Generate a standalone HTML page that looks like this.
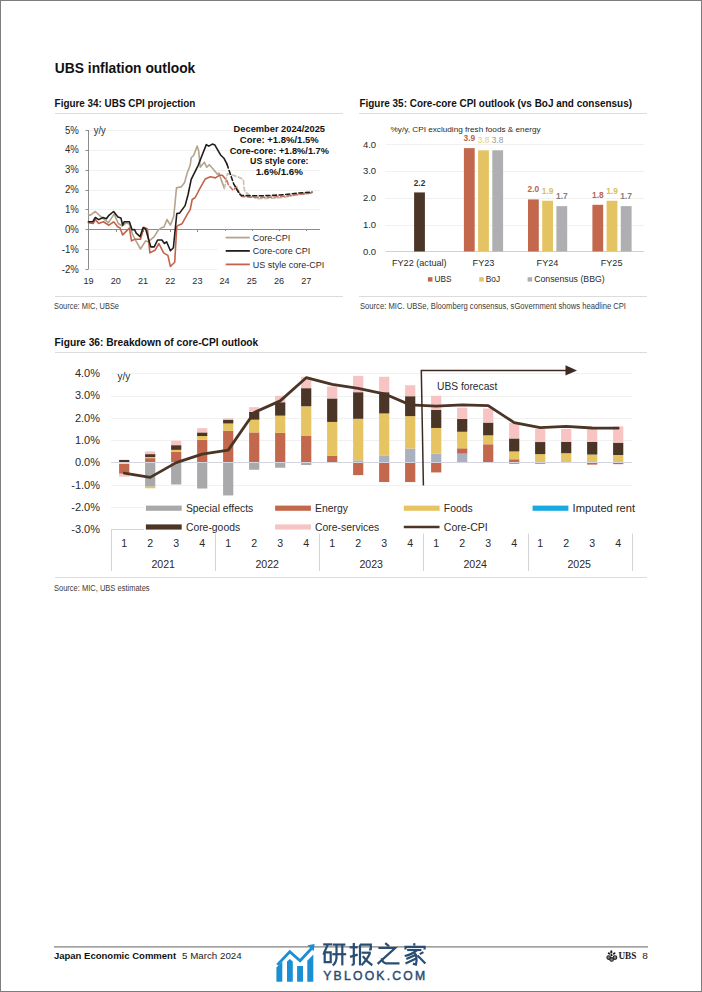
<!DOCTYPE html>
<html><head><meta charset="utf-8"><style>
html,body{margin:0;padding:0;background:#fff;}
svg{display:block;}
</style></head><body>
<svg width="702" height="992" viewBox="0 0 702 992">
<rect x="0.5" y="0.5" width="701" height="991" fill="#fff" stroke="#7d7d7d" stroke-width="1"/>
<text x="54.8" y="72.8" font-family="'Liberation Sans', sans-serif" font-size="14.5" font-weight="bold" fill="#111" text-anchor="start" textLength="140.5" lengthAdjust="spacingAndGlyphs">UBS inflation outlook</text>
<text x="54.6" y="106.8" font-family="'Liberation Sans', sans-serif" font-size="10.2" font-weight="bold" fill="#111" text-anchor="start" textLength="140.7" lengthAdjust="spacingAndGlyphs">Figure 34: UBS CPI projection</text>
<line x1="55" y1="113.5" x2="343" y2="113.5" stroke="#dcdcdc" stroke-width="1"/>
<text x="359.4" y="106.8" font-family="'Liberation Sans', sans-serif" font-size="10.2" font-weight="bold" fill="#111" text-anchor="start" textLength="272.6" lengthAdjust="spacingAndGlyphs">Figure 35: Core-core CPI outlook (vs BoJ and consensus)</text>
<line x1="359" y1="113.5" x2="647" y2="113.5" stroke="#dcdcdc" stroke-width="1"/>
<line x1="88.6" y1="130.5" x2="320" y2="130.5" stroke="#f1f1f1" stroke-width="1"/>
<line x1="88.6" y1="150.5" x2="320" y2="150.5" stroke="#f1f1f1" stroke-width="1"/>
<line x1="88.6" y1="170.5" x2="320" y2="170.5" stroke="#f1f1f1" stroke-width="1"/>
<line x1="88.6" y1="190.5" x2="320" y2="190.5" stroke="#f1f1f1" stroke-width="1"/>
<line x1="88.6" y1="209.5" x2="320" y2="209.5" stroke="#f1f1f1" stroke-width="1"/>
<line x1="88.6" y1="249.5" x2="320" y2="249.5" stroke="#f1f1f1" stroke-width="1"/>
<line x1="88.6" y1="269.5" x2="320" y2="269.5" stroke="#f1f1f1" stroke-width="1"/>
<line x1="88.5" y1="130" x2="88.5" y2="269" stroke="#8c8c8c" stroke-width="1"/>
<line x1="88.5" y1="229.5" x2="320" y2="229.5" stroke="#8c8c8c" stroke-width="1"/>
<line x1="85.5" y1="130.5" x2="88.5" y2="130.5" stroke="#8c8c8c" stroke-width="1"/>
<text x="78.8" y="133.55" font-family="'Liberation Sans', sans-serif" font-size="10" font-weight="normal" fill="#2a2a2a" text-anchor="end" textLength="13.88" lengthAdjust="spacingAndGlyphs">5%</text>
<line x1="85.5" y1="150.5" x2="88.5" y2="150.5" stroke="#8c8c8c" stroke-width="1"/>
<text x="78.8" y="153.4" font-family="'Liberation Sans', sans-serif" font-size="10" font-weight="normal" fill="#2a2a2a" text-anchor="end" textLength="13.88" lengthAdjust="spacingAndGlyphs">4%</text>
<line x1="85.5" y1="170.5" x2="88.5" y2="170.5" stroke="#8c8c8c" stroke-width="1"/>
<text x="78.8" y="173.25" font-family="'Liberation Sans', sans-serif" font-size="10" font-weight="normal" fill="#2a2a2a" text-anchor="end" textLength="13.88" lengthAdjust="spacingAndGlyphs">3%</text>
<line x1="85.5" y1="190.5" x2="88.5" y2="190.5" stroke="#8c8c8c" stroke-width="1"/>
<text x="78.8" y="193.10000000000002" font-family="'Liberation Sans', sans-serif" font-size="10" font-weight="normal" fill="#2a2a2a" text-anchor="end" textLength="13.88" lengthAdjust="spacingAndGlyphs">2%</text>
<line x1="85.5" y1="209.5" x2="88.5" y2="209.5" stroke="#8c8c8c" stroke-width="1"/>
<text x="78.8" y="212.95000000000002" font-family="'Liberation Sans', sans-serif" font-size="10" font-weight="normal" fill="#2a2a2a" text-anchor="end" textLength="13.88" lengthAdjust="spacingAndGlyphs">1%</text>
<line x1="85.5" y1="229.5" x2="88.5" y2="229.5" stroke="#8c8c8c" stroke-width="1"/>
<text x="78.8" y="232.8" font-family="'Liberation Sans', sans-serif" font-size="10" font-weight="normal" fill="#2a2a2a" text-anchor="end" textLength="13.88" lengthAdjust="spacingAndGlyphs">0%</text>
<line x1="85.5" y1="249.5" x2="88.5" y2="249.5" stroke="#8c8c8c" stroke-width="1"/>
<text x="78.8" y="252.65" font-family="'Liberation Sans', sans-serif" font-size="10" font-weight="normal" fill="#2a2a2a" text-anchor="end" textLength="17.07" lengthAdjust="spacingAndGlyphs">-1%</text>
<line x1="85.5" y1="269.5" x2="88.5" y2="269.5" stroke="#8c8c8c" stroke-width="1"/>
<text x="78.8" y="272.5" font-family="'Liberation Sans', sans-serif" font-size="10" font-weight="normal" fill="#2a2a2a" text-anchor="end" textLength="17.07" lengthAdjust="spacingAndGlyphs">-2%</text>
<text x="88.6" y="284" font-family="'Liberation Sans', sans-serif" font-size="9.8" font-weight="normal" fill="#2a2a2a" text-anchor="middle" textLength="10.14" lengthAdjust="spacingAndGlyphs">19</text>
<line x1="116.5" y1="229.5" x2="116.5" y2="232" stroke="#8c8c8c" stroke-width="1"/>
<text x="115.8" y="284" font-family="'Liberation Sans', sans-serif" font-size="9.8" font-weight="normal" fill="#2a2a2a" text-anchor="middle" textLength="10.14" lengthAdjust="spacingAndGlyphs">20</text>
<line x1="143.5" y1="229.5" x2="143.5" y2="232" stroke="#8c8c8c" stroke-width="1"/>
<text x="143.0" y="284" font-family="'Liberation Sans', sans-serif" font-size="9.8" font-weight="normal" fill="#2a2a2a" text-anchor="middle" textLength="10.14" lengthAdjust="spacingAndGlyphs">21</text>
<line x1="170.5" y1="229.5" x2="170.5" y2="232" stroke="#8c8c8c" stroke-width="1"/>
<text x="170.2" y="284" font-family="'Liberation Sans', sans-serif" font-size="9.8" font-weight="normal" fill="#2a2a2a" text-anchor="middle" textLength="10.14" lengthAdjust="spacingAndGlyphs">22</text>
<line x1="197.5" y1="229.5" x2="197.5" y2="232" stroke="#8c8c8c" stroke-width="1"/>
<text x="197.39999999999998" y="284" font-family="'Liberation Sans', sans-serif" font-size="9.8" font-weight="normal" fill="#2a2a2a" text-anchor="middle" textLength="10.14" lengthAdjust="spacingAndGlyphs">23</text>
<line x1="225.5" y1="229.5" x2="225.5" y2="232" stroke="#8c8c8c" stroke-width="1"/>
<text x="224.6" y="284" font-family="'Liberation Sans', sans-serif" font-size="9.8" font-weight="normal" fill="#2a2a2a" text-anchor="middle" textLength="10.14" lengthAdjust="spacingAndGlyphs">24</text>
<line x1="252.5" y1="229.5" x2="252.5" y2="232" stroke="#8c8c8c" stroke-width="1"/>
<text x="251.79999999999998" y="284" font-family="'Liberation Sans', sans-serif" font-size="9.8" font-weight="normal" fill="#2a2a2a" text-anchor="middle" textLength="10.14" lengthAdjust="spacingAndGlyphs">25</text>
<line x1="279.5" y1="229.5" x2="279.5" y2="232" stroke="#8c8c8c" stroke-width="1"/>
<text x="279.0" y="284" font-family="'Liberation Sans', sans-serif" font-size="9.8" font-weight="normal" fill="#2a2a2a" text-anchor="middle" textLength="10.14" lengthAdjust="spacingAndGlyphs">26</text>
<line x1="306.5" y1="229.5" x2="306.5" y2="232" stroke="#8c8c8c" stroke-width="1"/>
<text x="306.2" y="284" font-family="'Liberation Sans', sans-serif" font-size="9.8" font-weight="normal" fill="#2a2a2a" text-anchor="middle" textLength="10.14" lengthAdjust="spacingAndGlyphs">27</text>
<text x="93.8" y="133.6" font-family="'Liberation Sans', sans-serif" font-size="10" font-weight="normal" fill="#2a2a2a" text-anchor="start" textLength="12" lengthAdjust="spacingAndGlyphs">y/y</text>
<polyline points="88.4,214.1 90.1,215.3 95.3,211.5 100.0,215.8 103.4,218.8 108.5,222.6 114.1,214.1 118.3,223.5 122.2,226.0 126.0,223.0 129.4,224.0 132.8,234.9 135.0,239.2 140.5,249.0 145.6,240.9 148.2,241.8 154.2,236.6 158.5,229.8 161.9,227.6 164.0,227.0 167.0,219.5 170.4,225.1 173.8,216.1 176.5,187.9 181.1,186.9 184.6,182.4 187.1,173.3 190.2,165.3 191.2,157.7 193.7,155.2 197.2,146.1 198.7,151.1 200.2,167.3 204.3,162.2 206.8,167.3 209.3,164.7 213.3,169.3 217.4,174.3 219.0,173.0 221.4,180.4 224.4,188.4" fill="none" stroke="#b3a48d" stroke-width="1.6" stroke-linejoin="round" stroke-linecap="round"/>
<polyline points="88.4,222.6 93.1,223.5 95.3,219.6 98.7,223.5 103.4,221.8 108.9,225.2 113.6,221.8 117.9,226.9 120.0,227.7 122.6,234.9 129.4,228.1 131.5,240.9 135.0,239.2 140.5,239.2 143.9,227.2 147.4,228.9 149.9,252.9 155.0,250.3 158.9,243.5 163.6,252.9 167.9,255.4 170.4,266.5 174.7,262.3 176.8,226.4 178.6,225.2 182.1,223.7 187.1,214.7 190.2,209.6 192.2,199.5 195.2,197.5 200.2,187.9 205.3,178.9 210.3,176.8 215.4,177.9 219.4,175.3 222.4,175.3 227.0,180.9" fill="none" stroke="#c4624a" stroke-width="1.6" stroke-linejoin="round" stroke-linecap="round"/>
<polyline points="88.4,221.8 92.7,221.8 95.3,217.5 98.7,219.6 103.0,217.5 106.4,218.8 108.9,215.3 113.6,211.5 117.9,217.0 120.9,217.9 122.6,225.1 124.3,221.7 129.4,221.7 132.0,229.8 134.5,229.5 136.2,233.2 140.1,236.6 143.1,227.6 145.6,228.9 150.8,246.9 154.2,246.9 157.6,240.0 161.9,240.0 164.4,243.5 166.6,241.8 170.4,250.7 173.4,247.7 176.8,213.5 179.6,213.1 185.1,205.6 188.1,194.5 191.2,179.4 195.2,171.3 198.2,165.3 202.3,154.7 206.3,144.6 208.8,146.1 212.3,144.1 214.9,145.1 220.4,154.7 223.9,158.2 227.0,164.2" fill="none" stroke="#211d1a" stroke-width="1.6" stroke-linejoin="round" stroke-linecap="round"/>
<polyline points="224.4,188.4 227.4,173.7 237.1,176.5 243.4,179.4 243.9,187.4 245.0,191.9 251.0,196.0 257.0,198.6 266.0,198.4 276.0,198.2 285.0,197.2 297.0,194.8 312.0,192.8" fill="none" stroke="#c9bfae" stroke-width="1.6" stroke-linejoin="round" stroke-linecap="round" stroke-dasharray="4,2.6"/>
<polyline points="227.0,180.9 228.5,185.0 233.1,190.2 236.5,186.8 238.8,191.9 241.7,196.5 250.0,197.2 258.0,197.4 270.0,197.2 285.0,196.2 297.0,194.6 312.0,193.0" fill="none" stroke="#c27462" stroke-width="1.6" stroke-linejoin="round" stroke-linecap="round" stroke-dasharray="4,2.6"/>
<polyline points="227.0,164.2 233.6,183.6 239.3,193.8 241.5,195.5 244.5,195.6 252.0,195.8 260.0,195.8 274.0,195.3 285.0,194.6 297.0,193.2 312.0,192.0" fill="none" stroke="#211d1a" stroke-width="1.6" stroke-linejoin="round" stroke-linecap="round" stroke-dasharray="4,2.6"/>
<text x="279.3" y="132" font-family="'Liberation Sans', sans-serif" font-size="9.4" font-weight="bold" fill="#111" text-anchor="middle" textLength="91.4" lengthAdjust="spacingAndGlyphs">December 2024/2025</text>
<text x="279.3" y="142.9" font-family="'Liberation Sans', sans-serif" font-size="9.4" font-weight="bold" fill="#111" text-anchor="middle" textLength="79" lengthAdjust="spacingAndGlyphs">Core: +1.8%/1.5%</text>
<text x="279.3" y="153.5" font-family="'Liberation Sans', sans-serif" font-size="9.4" font-weight="bold" fill="#111" text-anchor="middle" textLength="99.3" lengthAdjust="spacingAndGlyphs">Core-core: +1.8%/1.7%</text>
<text x="279.3" y="164.3" font-family="'Liberation Sans', sans-serif" font-size="9.4" font-weight="bold" fill="#111" text-anchor="middle" textLength="58.5" lengthAdjust="spacingAndGlyphs">US style core:</text>
<text x="279.3" y="174.8" font-family="'Liberation Sans', sans-serif" font-size="9.4" font-weight="bold" fill="#111" text-anchor="middle" textLength="47.3" lengthAdjust="spacingAndGlyphs">1.6%/1.6%</text>
<rect x="217.50" y="231.00" width="108.00" height="40.00" fill="#fff"/>
<line x1="225.7" y1="237.6" x2="249.8" y2="237.6" stroke="#b3a48d" stroke-width="1.8"/>
<text x="252.8" y="240.9" font-family="'Liberation Sans', sans-serif" font-size="9.6" font-weight="normal" fill="#2a2a2a" text-anchor="start" textLength="37.49" lengthAdjust="spacingAndGlyphs">Core-CPI</text>
<line x1="225.7" y1="250.9" x2="249.8" y2="250.9" stroke="#211d1a" stroke-width="1.8"/>
<text x="252.8" y="254.20000000000002" font-family="'Liberation Sans', sans-serif" font-size="9.6" font-weight="normal" fill="#2a2a2a" text-anchor="start" textLength="57.49" lengthAdjust="spacingAndGlyphs">Core-core CPI</text>
<line x1="225.7" y1="264.4" x2="249.8" y2="264.4" stroke="#c4624a" stroke-width="1.8"/>
<text x="252.8" y="267.7" font-family="'Liberation Sans', sans-serif" font-size="9.6" font-weight="normal" fill="#2a2a2a" text-anchor="start" textLength="71.48" lengthAdjust="spacingAndGlyphs">US style core-CPI</text>
<line x1="55" y1="296.5" x2="343" y2="296.5" stroke="#dcdcdc" stroke-width="1"/>
<text x="54" y="309.4" font-family="'Liberation Sans', sans-serif" font-size="8.3" font-weight="normal" fill="#3a3a3a" text-anchor="start" textLength="65" lengthAdjust="spacingAndGlyphs">Source: MIC, UBSe</text>
<line x1="385.6" y1="225.5" x2="644" y2="225.5" stroke="#f1f1f1" stroke-width="1"/>
<line x1="385.6" y1="198.5" x2="644" y2="198.5" stroke="#f1f1f1" stroke-width="1"/>
<line x1="385.6" y1="171.5" x2="644" y2="171.5" stroke="#f1f1f1" stroke-width="1"/>
<line x1="385.6" y1="144.5" x2="644" y2="144.5" stroke="#f1f1f1" stroke-width="1"/>
<line x1="385.6" y1="251.5" x2="644" y2="251.5" stroke="#d0d0d0" stroke-width="1"/>
<text x="376.1" y="254.9" font-family="'Liberation Sans', sans-serif" font-size="9.5" font-weight="normal" fill="#2a2a2a" text-anchor="end">0.0</text>
<text x="376.1" y="228.05" font-family="'Liberation Sans', sans-serif" font-size="9.5" font-weight="normal" fill="#2a2a2a" text-anchor="end">1.0</text>
<text x="376.1" y="201.20000000000002" font-family="'Liberation Sans', sans-serif" font-size="9.5" font-weight="normal" fill="#2a2a2a" text-anchor="end">2.0</text>
<text x="376.1" y="174.35" font-family="'Liberation Sans', sans-serif" font-size="9.5" font-weight="normal" fill="#2a2a2a" text-anchor="end">3.0</text>
<text x="376.1" y="147.5" font-family="'Liberation Sans', sans-serif" font-size="9.5" font-weight="normal" fill="#2a2a2a" text-anchor="end">4.0</text>
<text x="390.6" y="132.4" font-family="'Liberation Sans', sans-serif" font-size="7.8" font-weight="normal" fill="#2a2a2a" text-anchor="start" textLength="150" lengthAdjust="spacingAndGlyphs">%y/y, CPI excluding fresh foods &amp; energy</text>
<rect x="414.10" y="192.43" width="10.80" height="59.07" fill="#4b3526"/>
<text x="419.5" y="185.5" font-family="'Liberation Sans', sans-serif" font-size="8.3" font-weight="bold" fill="#333" text-anchor="middle">2.2</text>
<rect x="463.90" y="148.13" width="10.80" height="103.37" fill="#c3684d"/>
<text x="469.3" y="140.9275" font-family="'Liberation Sans', sans-serif" font-size="8.4" font-weight="bold" fill="#b9644f" text-anchor="middle">3.9</text>
<rect x="478.10" y="150.28" width="10.80" height="101.22" fill="#e4c462"/>
<text x="483.5" y="143.0755" font-family="'Liberation Sans', sans-serif" font-size="8.4" font-weight="normal" fill="#e0cf7a" text-anchor="middle">3.8</text>
<rect x="492.30" y="150.28" width="10.80" height="101.22" fill="#afafb1"/>
<text x="497.7" y="143.0755" font-family="'Liberation Sans', sans-serif" font-size="8.4" font-weight="normal" fill="#9a9a9a" text-anchor="middle">3.8</text>
<rect x="528.00" y="199.41" width="10.80" height="52.09" fill="#c3684d"/>
<text x="533.4" y="192.211" font-family="'Liberation Sans', sans-serif" font-size="8.4" font-weight="bold" fill="#b9644f" text-anchor="middle">2.0</text>
<rect x="542.20" y="200.75" width="10.80" height="50.75" fill="#e4c462"/>
<text x="547.6" y="193.5535" font-family="'Liberation Sans', sans-serif" font-size="8.4" font-weight="bold" fill="#d9bf5c" text-anchor="middle">1.9</text>
<rect x="556.40" y="206.12" width="10.80" height="45.38" fill="#afafb1"/>
<text x="561.8000000000001" y="198.92350000000002" font-family="'Liberation Sans', sans-serif" font-size="8.4" font-weight="bold" fill="#808080" text-anchor="middle">1.7</text>
<rect x="592.40" y="204.78" width="10.80" height="46.72" fill="#c3684d"/>
<text x="597.8" y="197.58100000000002" font-family="'Liberation Sans', sans-serif" font-size="8.4" font-weight="bold" fill="#b9644f" text-anchor="middle">1.8</text>
<rect x="606.60" y="200.75" width="10.80" height="50.75" fill="#e4c462"/>
<text x="612.0" y="193.5535" font-family="'Liberation Sans', sans-serif" font-size="8.4" font-weight="bold" fill="#d9bf5c" text-anchor="middle">1.9</text>
<rect x="620.80" y="206.12" width="10.80" height="45.38" fill="#afafb1"/>
<text x="626.2" y="198.92350000000002" font-family="'Liberation Sans', sans-serif" font-size="8.4" font-weight="bold" fill="#808080" text-anchor="middle">1.7</text>
<text x="419.3" y="266.2" font-family="'Liberation Sans', sans-serif" font-size="9.8" font-weight="normal" fill="#2a2a2a" text-anchor="middle" textLength="54.71" lengthAdjust="spacingAndGlyphs">FY22 (actual)</text>
<text x="483.5" y="266.2" font-family="'Liberation Sans', sans-serif" font-size="9.8" font-weight="normal" fill="#2a2a2a" text-anchor="middle" textLength="21.78" lengthAdjust="spacingAndGlyphs">FY23</text>
<text x="547.5" y="266.2" font-family="'Liberation Sans', sans-serif" font-size="9.8" font-weight="normal" fill="#2a2a2a" text-anchor="middle" textLength="21.78" lengthAdjust="spacingAndGlyphs">FY24</text>
<text x="611.6" y="266.2" font-family="'Liberation Sans', sans-serif" font-size="9.8" font-weight="normal" fill="#2a2a2a" text-anchor="middle" textLength="21.78" lengthAdjust="spacingAndGlyphs">FY25</text>
<rect x="427.90" y="277.20" width="4.60" height="4.40" fill="#c3684d"/>
<text x="434.5" y="281.9" font-family="'Liberation Sans', sans-serif" font-size="9.3" font-weight="normal" fill="#2a2a2a" text-anchor="start" textLength="17" lengthAdjust="spacingAndGlyphs">UBS</text>
<rect x="479.20" y="277.20" width="4.60" height="4.40" fill="#e4c462"/>
<text x="485.8" y="281.9" font-family="'Liberation Sans', sans-serif" font-size="9.3" font-weight="normal" fill="#2a2a2a" text-anchor="start" textLength="14.3" lengthAdjust="spacingAndGlyphs">BoJ</text>
<rect x="527.60" y="277.20" width="4.60" height="4.40" fill="#afafb1"/>
<text x="534.2" y="281.9" font-family="'Liberation Sans', sans-serif" font-size="9.3" font-weight="normal" fill="#2a2a2a" text-anchor="start" textLength="70.5" lengthAdjust="spacingAndGlyphs">Consensus (BBG)</text>
<line x1="359" y1="296.5" x2="647" y2="296.5" stroke="#dcdcdc" stroke-width="1"/>
<text x="360" y="309.4" font-family="'Liberation Sans', sans-serif" font-size="8.3" font-weight="normal" fill="#3a3a3a" text-anchor="start" textLength="266" lengthAdjust="spacingAndGlyphs">Source: MIC. UBSe, Bloomberg consensus, sGovernment shows headline CPI</text>
<text x="54.6" y="346.2" font-family="'Liberation Sans', sans-serif" font-size="10.4" font-weight="bold" fill="#111" text-anchor="start" textLength="203.7" lengthAdjust="spacingAndGlyphs">Figure 36: Breakdown of core-CPI outlook</text>
<line x1="55" y1="352.5" x2="647" y2="352.5" stroke="#dcdcdc" stroke-width="1.2"/>
<line x1="111" y1="373.5" x2="632" y2="373.5" stroke="#f1f1f1" stroke-width="1"/>
<line x1="111" y1="396.5" x2="632" y2="396.5" stroke="#f1f1f1" stroke-width="1"/>
<line x1="111" y1="418.5" x2="632" y2="418.5" stroke="#f1f1f1" stroke-width="1"/>
<line x1="111" y1="440.5" x2="632" y2="440.5" stroke="#f1f1f1" stroke-width="1"/>
<line x1="111" y1="485.5" x2="632" y2="485.5" stroke="#f1f1f1" stroke-width="1"/>
<line x1="111" y1="507.5" x2="632" y2="507.5" stroke="#f1f1f1" stroke-width="1"/>
<text x="100" y="377.00000000000006" font-family="'Liberation Sans', sans-serif" font-size="11" font-weight="normal" fill="#2a2a2a" text-anchor="end" textLength="25.07" lengthAdjust="spacingAndGlyphs">4.0%</text>
<text x="100" y="399.35" font-family="'Liberation Sans', sans-serif" font-size="11" font-weight="normal" fill="#2a2a2a" text-anchor="end" textLength="25.07" lengthAdjust="spacingAndGlyphs">3.0%</text>
<text x="100" y="421.70000000000005" font-family="'Liberation Sans', sans-serif" font-size="11" font-weight="normal" fill="#2a2a2a" text-anchor="end" textLength="25.07" lengthAdjust="spacingAndGlyphs">2.0%</text>
<text x="100" y="444.05" font-family="'Liberation Sans', sans-serif" font-size="11" font-weight="normal" fill="#2a2a2a" text-anchor="end" textLength="25.07" lengthAdjust="spacingAndGlyphs">1.0%</text>
<text x="100" y="466.40000000000003" font-family="'Liberation Sans', sans-serif" font-size="11" font-weight="normal" fill="#2a2a2a" text-anchor="end" textLength="25.07" lengthAdjust="spacingAndGlyphs">0.0%</text>
<text x="100" y="488.75000000000006" font-family="'Liberation Sans', sans-serif" font-size="11" font-weight="normal" fill="#2a2a2a" text-anchor="end" textLength="28.74" lengthAdjust="spacingAndGlyphs">-1.0%</text>
<text x="100" y="511.1" font-family="'Liberation Sans', sans-serif" font-size="11" font-weight="normal" fill="#2a2a2a" text-anchor="end" textLength="28.74" lengthAdjust="spacingAndGlyphs">-2.0%</text>
<text x="100" y="533.45" font-family="'Liberation Sans', sans-serif" font-size="11" font-weight="normal" fill="#2a2a2a" text-anchor="end" textLength="28.74" lengthAdjust="spacingAndGlyphs">-3.0%</text>
<text x="117.6" y="380" font-family="'Liberation Sans', sans-serif" font-size="10" font-weight="normal" fill="#2a2a2a" text-anchor="start">y/y</text>
<rect x="119.10" y="459.92" width="10.20" height="2.68" fill="#4b3526"/>
<rect x="119.10" y="463.72" width="10.20" height="10.06" fill="#c3684d"/>
<rect x="119.10" y="473.78" width="10.20" height="2.91" fill="#f7c3c3"/>
<rect x="145.10" y="458.13" width="10.20" height="4.47" fill="#c3684d"/>
<rect x="145.10" y="457.01" width="10.20" height="1.12" fill="#e6c461"/>
<rect x="145.10" y="454.11" width="10.20" height="2.91" fill="#4b3526"/>
<rect x="145.10" y="451.43" width="10.20" height="2.68" fill="#f7c3c3"/>
<rect x="145.10" y="462.60" width="10.20" height="24.14" fill="#a9a9ac"/>
<rect x="145.10" y="486.74" width="10.20" height="1.56" fill="#e6c461"/>
<rect x="171.10" y="451.65" width="10.20" height="10.95" fill="#c3684d"/>
<rect x="171.10" y="449.86" width="10.20" height="1.79" fill="#e6c461"/>
<rect x="171.10" y="445.17" width="10.20" height="4.69" fill="#4b3526"/>
<rect x="171.10" y="440.70" width="10.20" height="4.47" fill="#f7c3c3"/>
<rect x="171.10" y="462.60" width="10.20" height="21.90" fill="#a9a9ac"/>
<rect x="197.10" y="439.80" width="10.20" height="22.80" fill="#c3684d"/>
<rect x="197.10" y="436.00" width="10.20" height="3.80" fill="#e6c461"/>
<rect x="197.10" y="432.43" width="10.20" height="3.58" fill="#4b3526"/>
<rect x="197.10" y="428.18" width="10.20" height="4.25" fill="#f7c3c3"/>
<rect x="197.10" y="462.60" width="10.20" height="25.93" fill="#a9a9ac"/>
<rect x="223.10" y="430.86" width="10.20" height="31.74" fill="#c3684d"/>
<rect x="223.10" y="423.49" width="10.20" height="7.38" fill="#e6c461"/>
<rect x="223.10" y="419.69" width="10.20" height="3.80" fill="#4b3526"/>
<rect x="223.10" y="418.35" width="10.20" height="1.34" fill="#f7c3c3"/>
<rect x="223.10" y="462.60" width="10.20" height="32.85" fill="#a9a9ac"/>
<rect x="249.10" y="432.43" width="10.20" height="30.17" fill="#c3684d"/>
<rect x="249.10" y="419.69" width="10.20" height="12.74" fill="#e6c461"/>
<rect x="249.10" y="411.87" width="10.20" height="7.82" fill="#4b3526"/>
<rect x="249.10" y="407.17" width="10.20" height="4.69" fill="#f7c3c3"/>
<rect x="249.10" y="462.60" width="10.20" height="7.15" fill="#a9a9ac"/>
<rect x="275.10" y="432.87" width="10.20" height="29.73" fill="#c3684d"/>
<rect x="275.10" y="415.67" width="10.20" height="17.21" fill="#e6c461"/>
<rect x="275.10" y="402.25" width="10.20" height="13.41" fill="#4b3526"/>
<rect x="275.10" y="395.77" width="10.20" height="6.48" fill="#f7c3c3"/>
<rect x="275.10" y="462.60" width="10.20" height="5.14" fill="#a9a9ac"/>
<rect x="301.10" y="436.00" width="10.20" height="26.60" fill="#c3684d"/>
<rect x="301.10" y="406.28" width="10.20" height="29.73" fill="#e6c461"/>
<rect x="301.10" y="388.17" width="10.20" height="18.10" fill="#4b3526"/>
<rect x="301.10" y="376.78" width="10.20" height="11.40" fill="#f7c3c3"/>
<rect x="301.10" y="462.60" width="10.20" height="2.46" fill="#a9a9ac"/>
<rect x="327.10" y="455.90" width="10.20" height="6.70" fill="#c3684d"/>
<rect x="327.10" y="421.92" width="10.20" height="33.97" fill="#e6c461"/>
<rect x="327.10" y="398.46" width="10.20" height="23.47" fill="#4b3526"/>
<rect x="327.10" y="386.39" width="10.20" height="12.07" fill="#f7c3c3"/>
<rect x="353.10" y="460.37" width="10.20" height="2.24" fill="#aab0bd"/>
<rect x="353.10" y="418.79" width="10.20" height="41.57" fill="#e6c461"/>
<rect x="353.10" y="392.20" width="10.20" height="26.60" fill="#4b3526"/>
<rect x="353.10" y="375.88" width="10.20" height="16.32" fill="#f7c3c3"/>
<rect x="353.10" y="462.60" width="10.20" height="12.52" fill="#c3684d"/>
<rect x="379.10" y="455.90" width="10.20" height="6.70" fill="#aab0bd"/>
<rect x="379.10" y="413.43" width="10.20" height="42.47" fill="#e6c461"/>
<rect x="379.10" y="392.20" width="10.20" height="21.23" fill="#4b3526"/>
<rect x="379.10" y="376.78" width="10.20" height="15.42" fill="#f7c3c3"/>
<rect x="379.10" y="462.60" width="10.20" height="19.44" fill="#c3684d"/>
<rect x="405.10" y="448.52" width="10.20" height="14.08" fill="#aab0bd"/>
<rect x="405.10" y="416.11" width="10.20" height="32.41" fill="#e6c461"/>
<rect x="405.10" y="396.22" width="10.20" height="19.89" fill="#4b3526"/>
<rect x="405.10" y="385.27" width="10.20" height="10.95" fill="#f7c3c3"/>
<rect x="405.10" y="462.60" width="10.20" height="19.44" fill="#c3684d"/>
<rect x="431.10" y="453.66" width="10.20" height="8.94" fill="#aab0bd"/>
<rect x="431.10" y="427.96" width="10.20" height="25.70" fill="#e6c461"/>
<rect x="431.10" y="409.85" width="10.20" height="18.10" fill="#4b3526"/>
<rect x="431.10" y="395.77" width="10.20" height="14.08" fill="#f7c3c3"/>
<rect x="431.10" y="462.60" width="10.20" height="9.83" fill="#c3684d"/>
<rect x="457.10" y="453.66" width="10.20" height="8.94" fill="#aab0bd"/>
<rect x="457.10" y="448.30" width="10.20" height="5.36" fill="#c3684d"/>
<rect x="457.10" y="431.76" width="10.20" height="16.54" fill="#e6c461"/>
<rect x="457.10" y="419.02" width="10.20" height="12.74" fill="#4b3526"/>
<rect x="457.10" y="407.62" width="10.20" height="11.40" fill="#f7c3c3"/>
<rect x="483.10" y="444.27" width="10.20" height="18.33" fill="#c3684d"/>
<rect x="483.10" y="435.33" width="10.20" height="8.94" fill="#e6c461"/>
<rect x="483.10" y="422.59" width="10.20" height="12.74" fill="#4b3526"/>
<rect x="483.10" y="408.51" width="10.20" height="14.08" fill="#f7c3c3"/>
<rect x="509.10" y="459.25" width="10.20" height="3.35" fill="#c3684d"/>
<rect x="509.10" y="451.43" width="10.20" height="7.82" fill="#e6c461"/>
<rect x="509.10" y="438.46" width="10.20" height="12.96" fill="#4b3526"/>
<rect x="509.10" y="422.82" width="10.20" height="15.65" fill="#f7c3c3"/>
<rect x="509.10" y="462.60" width="10.20" height="1.12" fill="#c3684d"/>
<rect x="535.10" y="454.11" width="10.20" height="8.49" fill="#e6c461"/>
<rect x="535.10" y="442.04" width="10.20" height="12.07" fill="#4b3526"/>
<rect x="535.10" y="429.08" width="10.20" height="12.96" fill="#f7c3c3"/>
<rect x="535.10" y="462.60" width="10.20" height="1.12" fill="#c3684d"/>
<rect x="561.10" y="453.21" width="10.20" height="9.39" fill="#e6c461"/>
<rect x="561.10" y="441.81" width="10.20" height="11.40" fill="#4b3526"/>
<rect x="561.10" y="428.85" width="10.20" height="12.96" fill="#f7c3c3"/>
<rect x="587.10" y="454.55" width="10.20" height="8.05" fill="#e6c461"/>
<rect x="587.10" y="441.81" width="10.20" height="12.74" fill="#4b3526"/>
<rect x="587.10" y="429.08" width="10.20" height="12.74" fill="#f7c3c3"/>
<rect x="587.10" y="462.60" width="10.20" height="2.01" fill="#c3684d"/>
<rect x="613.10" y="455.00" width="10.20" height="7.60" fill="#e6c461"/>
<rect x="613.10" y="442.71" width="10.20" height="12.29" fill="#4b3526"/>
<rect x="613.10" y="426.39" width="10.20" height="16.32" fill="#f7c3c3"/>
<rect x="613.10" y="462.60" width="10.20" height="1.56" fill="#c3684d"/>
<line x1="111" y1="462.5" x2="632" y2="462.5" stroke="#d4d4de" stroke-width="1"/>
<polyline points="124.2,473.1 150.2,477.4 176.2,462.6 202.2,454.1 228.2,450.1 254.2,412.5 280.2,400.9 306.2,377.7 332.2,384.4 358.2,388.4 384.2,393.8 410.2,404.9 436.2,406.1 462.2,404.9 488.2,405.6 514.2,422.6 540.2,427.7 566.2,426.4 592.2,428.0 618.2,428.2" fill="none" stroke="#4b3526" stroke-width="2.8" stroke-linejoin="round" stroke-linecap="round"/>
<polyline points="423.4,485.5 421.3,370.6 566,370.6" fill="none" stroke="#3d2b22" stroke-width="1.5"/>
<polygon points="565.5,365.2 577,370.4 565.5,375.6" fill="#3d2b22"/>
<text x="437" y="389.5" font-family="'Liberation Sans', sans-serif" font-size="10.3" font-weight="normal" fill="#2a2a2a" text-anchor="start" textLength="60.3" lengthAdjust="spacingAndGlyphs">UBS forecast</text>
<rect x="144.00" y="500.00" width="497.00" height="33.50" fill="#fff"/>
<rect x="145.90" y="505.60" width="35.80" height="5.20" fill="#a9a9ac"/>
<text x="185.9" y="512.2" font-family="'Liberation Sans', sans-serif" font-size="10.7" font-weight="normal" fill="#2a2a2a" text-anchor="start" textLength="67.31" lengthAdjust="spacingAndGlyphs">Special effects</text>
<rect x="275.10" y="505.60" width="35.80" height="5.20" fill="#c3684d"/>
<text x="315.1" y="512.2" font-family="'Liberation Sans', sans-serif" font-size="10.7" font-weight="normal" fill="#2a2a2a" text-anchor="start" textLength="32.89" lengthAdjust="spacingAndGlyphs">Energy</text>
<rect x="403.80" y="505.60" width="35.80" height="5.20" fill="#e6c461"/>
<text x="443.8" y="512.2" font-family="'Liberation Sans', sans-serif" font-size="10.7" font-weight="normal" fill="#2a2a2a" text-anchor="start" textLength="28.85" lengthAdjust="spacingAndGlyphs">Foods</text>
<rect x="532.60" y="505.60" width="35.80" height="5.20" fill="#19a9e1"/>
<text x="572.6" y="512.2" font-family="'Liberation Sans', sans-serif" font-size="10.7" font-weight="normal" fill="#2a2a2a" text-anchor="start" textLength="62.48" lengthAdjust="spacingAndGlyphs">Imputed rent</text>
<rect x="145.90" y="524.40" width="35.80" height="5.20" fill="#4b3526"/>
<text x="185.9" y="531.0" font-family="'Liberation Sans', sans-serif" font-size="10.7" font-weight="normal" fill="#2a2a2a" text-anchor="start" textLength="54.23" lengthAdjust="spacingAndGlyphs">Core-goods</text>
<rect x="275.10" y="524.40" width="35.80" height="5.20" fill="#f7c3c3"/>
<text x="315.1" y="531.0" font-family="'Liberation Sans', sans-serif" font-size="10.7" font-weight="normal" fill="#2a2a2a" text-anchor="start" textLength="64.02" lengthAdjust="spacingAndGlyphs">Core-services</text>
<line x1="403.8" y1="527" x2="439.5" y2="527" stroke="#4b3526" stroke-width="2.6"/>
<text x="443.8" y="531" font-family="'Liberation Sans', sans-serif" font-size="10.7" font-weight="normal" fill="#2a2a2a" text-anchor="start" textLength="43.92" lengthAdjust="spacingAndGlyphs">Core-CPI</text>
<line x1="111" y1="529.5" x2="144" y2="529.5" stroke="#d5d5d5" stroke-width="1"/>
<line x1="111.5" y1="529.5" x2="111.5" y2="571" stroke="#d5d5d5" stroke-width="1"/>
<line x1="215.5" y1="533.5" x2="215.5" y2="571" stroke="#d5d5d5" stroke-width="1"/>
<line x1="319.5" y1="533.5" x2="319.5" y2="571" stroke="#d5d5d5" stroke-width="1"/>
<line x1="423.5" y1="533.5" x2="423.5" y2="571" stroke="#d5d5d5" stroke-width="1"/>
<line x1="528.5" y1="533.5" x2="528.5" y2="571" stroke="#d5d5d5" stroke-width="1"/>
<line x1="632.5" y1="533.5" x2="632.5" y2="571" stroke="#d5d5d5" stroke-width="1"/>
<text x="124.2" y="547" font-family="'Liberation Sans', sans-serif" font-size="10.6" font-weight="normal" fill="#2a2a2a" text-anchor="middle">1</text>
<text x="150.2" y="547" font-family="'Liberation Sans', sans-serif" font-size="10.6" font-weight="normal" fill="#2a2a2a" text-anchor="middle">2</text>
<text x="176.2" y="547" font-family="'Liberation Sans', sans-serif" font-size="10.6" font-weight="normal" fill="#2a2a2a" text-anchor="middle">3</text>
<text x="202.2" y="547" font-family="'Liberation Sans', sans-serif" font-size="10.6" font-weight="normal" fill="#2a2a2a" text-anchor="middle">4</text>
<text x="228.2" y="547" font-family="'Liberation Sans', sans-serif" font-size="10.6" font-weight="normal" fill="#2a2a2a" text-anchor="middle">1</text>
<text x="254.2" y="547" font-family="'Liberation Sans', sans-serif" font-size="10.6" font-weight="normal" fill="#2a2a2a" text-anchor="middle">2</text>
<text x="280.2" y="547" font-family="'Liberation Sans', sans-serif" font-size="10.6" font-weight="normal" fill="#2a2a2a" text-anchor="middle">3</text>
<text x="306.2" y="547" font-family="'Liberation Sans', sans-serif" font-size="10.6" font-weight="normal" fill="#2a2a2a" text-anchor="middle">4</text>
<text x="332.2" y="547" font-family="'Liberation Sans', sans-serif" font-size="10.6" font-weight="normal" fill="#2a2a2a" text-anchor="middle">1</text>
<text x="358.2" y="547" font-family="'Liberation Sans', sans-serif" font-size="10.6" font-weight="normal" fill="#2a2a2a" text-anchor="middle">2</text>
<text x="384.2" y="547" font-family="'Liberation Sans', sans-serif" font-size="10.6" font-weight="normal" fill="#2a2a2a" text-anchor="middle">3</text>
<text x="410.2" y="547" font-family="'Liberation Sans', sans-serif" font-size="10.6" font-weight="normal" fill="#2a2a2a" text-anchor="middle">4</text>
<text x="436.2" y="547" font-family="'Liberation Sans', sans-serif" font-size="10.6" font-weight="normal" fill="#2a2a2a" text-anchor="middle">1</text>
<text x="462.2" y="547" font-family="'Liberation Sans', sans-serif" font-size="10.6" font-weight="normal" fill="#2a2a2a" text-anchor="middle">2</text>
<text x="488.2" y="547" font-family="'Liberation Sans', sans-serif" font-size="10.6" font-weight="normal" fill="#2a2a2a" text-anchor="middle">3</text>
<text x="514.2" y="547" font-family="'Liberation Sans', sans-serif" font-size="10.6" font-weight="normal" fill="#2a2a2a" text-anchor="middle">4</text>
<text x="540.2" y="547" font-family="'Liberation Sans', sans-serif" font-size="10.6" font-weight="normal" fill="#2a2a2a" text-anchor="middle">1</text>
<text x="566.2" y="547" font-family="'Liberation Sans', sans-serif" font-size="10.6" font-weight="normal" fill="#2a2a2a" text-anchor="middle">2</text>
<text x="592.2" y="547" font-family="'Liberation Sans', sans-serif" font-size="10.6" font-weight="normal" fill="#2a2a2a" text-anchor="middle">3</text>
<text x="618.2" y="547" font-family="'Liberation Sans', sans-serif" font-size="10.6" font-weight="normal" fill="#2a2a2a" text-anchor="middle">4</text>
<text x="163.2" y="567.7" font-family="'Liberation Sans', sans-serif" font-size="10.6" font-weight="normal" fill="#2a2a2a" text-anchor="middle" textLength="23.58" lengthAdjust="spacingAndGlyphs">2021</text>
<text x="267.2" y="567.7" font-family="'Liberation Sans', sans-serif" font-size="10.6" font-weight="normal" fill="#2a2a2a" text-anchor="middle" textLength="23.58" lengthAdjust="spacingAndGlyphs">2022</text>
<text x="371.2" y="567.7" font-family="'Liberation Sans', sans-serif" font-size="10.6" font-weight="normal" fill="#2a2a2a" text-anchor="middle" textLength="23.58" lengthAdjust="spacingAndGlyphs">2023</text>
<text x="475.2" y="567.7" font-family="'Liberation Sans', sans-serif" font-size="10.6" font-weight="normal" fill="#2a2a2a" text-anchor="middle" textLength="23.58" lengthAdjust="spacingAndGlyphs">2024</text>
<text x="579.2" y="567.7" font-family="'Liberation Sans', sans-serif" font-size="10.6" font-weight="normal" fill="#2a2a2a" text-anchor="middle" textLength="23.58" lengthAdjust="spacingAndGlyphs">2025</text>
<line x1="55" y1="577.5" x2="647" y2="577.5" stroke="#dcdcdc" stroke-width="1"/>
<text x="54" y="591" font-family="'Liberation Sans', sans-serif" font-size="8.3" font-weight="normal" fill="#3a3a3a" text-anchor="start" textLength="95.6" lengthAdjust="spacingAndGlyphs">Source: MIC, UBS estimates</text>
<line x1="54" y1="946.8" x2="648" y2="946.8" stroke="#808080" stroke-width="1.3"/>
<text x="53.9" y="959" font-family="'Liberation Sans', sans-serif" font-size="8.7" font-weight="bold" fill="#111" text-anchor="start" textLength="122.2" lengthAdjust="spacingAndGlyphs">Japan Economic Comment</text>
<text x="182" y="959" font-family="'Liberation Sans', sans-serif" font-size="8.7" font-weight="normal" fill="#222" text-anchor="start" textLength="59.7" lengthAdjust="spacingAndGlyphs">5 March 2024</text>
<text x="618.4" y="959" font-family="'Liberation Serif', serif" font-size="9.8" font-weight="bold" fill="#1a1a1a" text-anchor="start" textLength="17.9" lengthAdjust="spacingAndGlyphs">UBS</text>
<text x="642.2" y="959.2" font-family="'Liberation Sans', sans-serif" font-size="9.8" font-weight="normal" fill="#222" text-anchor="start" textLength="5.6" lengthAdjust="spacingAndGlyphs">8</text>
<g fill="#1a1a1a"><ellipse cx="611.3" cy="951.9" rx="1.1" ry="1.7"/><ellipse cx="609.1" cy="953.5" rx="1" ry="1.5" transform="rotate(-55 609.1 953.5)"/><ellipse cx="614.2" cy="953.5" rx="1" ry="1.5" transform="rotate(55 614.2 953.5)"/><circle cx="611.5" cy="955.2" r="1.1"/></g>
<g fill="#888" stroke="#222" stroke-width="1.1"><circle cx="608.7" cy="957.6" r="1.8"/><circle cx="615" cy="957.6" r="1.8"/><circle cx="611.6" cy="959.4" r="1.8"/></g>
<g fill="#1b8fd3"><polygon points="276.4,967.4 282.3,961.4 282.3,981.7 276.4,981.7"/><polygon points="287,961.4 289.9,959 292.8,961.4 292.8,981.7 287,981.7"/><rect x="297.1" y="966" width="5.9" height="15.7"/><polygon points="307.3,960.7 313.3,954.6 313.3,981.7 307.3,981.7"/><polygon points="307.5,945.3 314.6,944 313.6,951.3"/></g>
<polyline points="277.3,964.9 289.8,951.8 300.1,960.7 311.5,948.5" fill="none" stroke="#1b8fd3" stroke-width="2.8" stroke-linejoin="miter"/>
<g transform="translate(322.7,943.6)" fill="none" stroke="#2a4d73" stroke-width="2.2" stroke-linecap="butt"><path d="M0.5 0.8 H9.5"/><path d="M5 1 L0.7 11"/><path d="M2 8.7 H8 V18.6 H2 Z"/><path d="M10 1 H22.7"/><path d="M9.6 10.6 H23.5"/><path d="M13.8 1 V14 Q13.5 19 10 21.8"/><path d="M19.6 1 V21.8"/></g>
<g transform="translate(349.6,943.6)" fill="none" stroke="#2a4d73" stroke-width="2.2" stroke-linecap="butt"><path d="M0 3.7 H8.1"/><path d="M4.2 -0.5 V20 Q4.2 21.5 2 21"/><path d="M0.4 13.3 L8.1 11"/><path d="M10.4 1 V21.8"/><path d="M10.4 1 H21.2 V5.6 L19.5 6"/><path d="M11.9 9.1 H21.2"/><path d="M20.5 9.5 Q17 17 11.9 21.6"/><path d="M13.2 12.5 Q17 18 22.7 21.6"/></g>
<g transform="translate(376.8,943.6)" fill="none" stroke="#2a4d73" stroke-width="2.2" stroke-linecap="butt"><path d="M8.4 -0.4 L12.3 2.8"/><path d="M1.6 4.4 H18.3 L0.8 20.3"/><path d="M4.8 14.7 Q6 19.5 9 19.7 H22.7"/></g>
<g transform="translate(403.9,943.6)" fill="none" stroke="#2a4d73" stroke-width="2.2" stroke-linecap="butt"><path d="M10.4 -0.4 V2"/><path d="M1.6 6 V3.2 H20.7 V6"/><path d="M3.2 6.4 H17.5"/><path d="M12.8 6.8 Q8 11 0.8 12.4"/><path d="M2.4 15.5 L12.8 11"/><path d="M1.6 20 L12.8 14.7"/><path d="M10.4 9.5 Q14 13 12 21 L9 20"/><path d="M13.6 12 L21.5 20"/><path d="M15.9 10.5 L19.5 8.5"/></g>
<text x="323.2" y="980.4" font-family="'Liberation Sans', sans-serif" font-size="12.2" fill="#2a4d73" stroke="#2a4d73" stroke-width="0.45" textLength="102" lengthAdjust="spacing">YBLOOK.COM</text>
</svg>
</body></html>
